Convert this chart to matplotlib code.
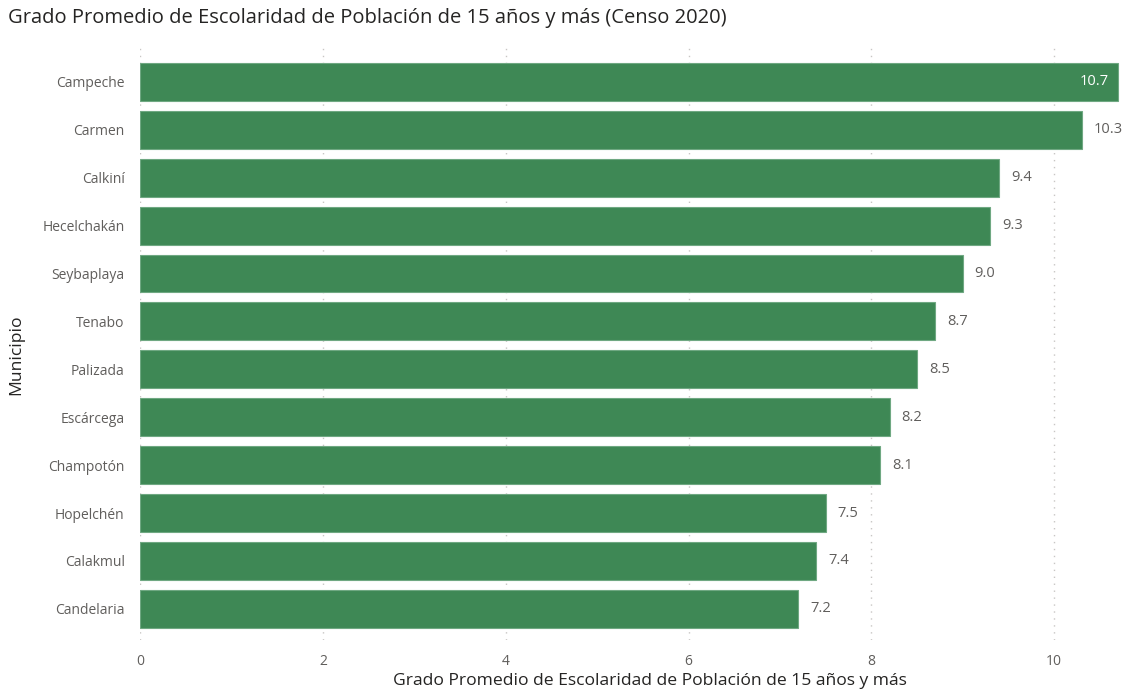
import matplotlib
matplotlib.use("Agg")
import matplotlib.pyplot as plt

municipios = ["Campeche", "Carmen", "Calkiní", "Hecelchakán", "Seybaplaya", "Tenabo",
              "Palizada", "Escárcega", "Champotón", "Hopelchén", "Calakmul", "Candelaria"]
valores = [10.7, 10.3, 9.4, 9.3, 9.0, 8.7, 8.5, 8.2, 8.1, 7.5, 7.4, 7.2]
xticks = [0, 2, 4, 6, 8, 10]

BAR = "#3E8855"
GRAY = "#605E5C"
DARK = "#252423"
FONT = ["Open Sans", "DejaVu Sans"]

plt.rcParams['font.family'] = FONT

fig = plt.figure(figsize=(11.28, 6.96), dpi=100)
W, H = 1128, 696
left, right, top, bottom = 140, 1120, 45, 640
ax = fig.add_axes([left / W, 1 - bottom / H, (right - left) / W, (bottom - top) / H])

ypos = list(range(len(municipios)))
ax.barh(ypos, valores, height=0.79, color=BAR, edgecolor="#6FA882", linewidth=0.8, zorder=3)
ax.set_ylim(len(municipios) - 1 + 0.65, -0.77)
ax.set_xlim(0, 10.72)

ax.set_xticks(xticks)
ax.set_xticklabels([str(t) for t in xticks])
ax.set_yticks(ypos)
ax.set_yticklabels(municipios)
ax.tick_params(axis='both', length=0, colors=GRAY, labelsize=10)
ax.tick_params(axis='y', pad=11)
ax.tick_params(axis='x', pad=10)
for s in ax.spines.values():
    s.set_visible(False)
ax.grid(axis='x', linestyle=(0, (1, 4)), color="#C8C6C4", linewidth=1, zorder=0)
ax.set_axisbelow(True)

for y, v in zip(ypos, valores):
    if v >= 10.6:
        ax.text(v - 0.1, y, f"{v:.1f}", va='center', ha='right', color="white", fontsize=10.5, zorder=4)
    else:
        ax.text(v + 0.13, y, f"{v:.1f}", va='center', ha='left', color=GRAY, fontsize=10.5, zorder=4)

ax.set_xlabel("Grado Promedio de Escolaridad de Población de 15 años y más", fontsize=12.6, color=DARK)
ax.xaxis.set_label_coords((650 - left) / (right - left), -0.055)
ax.set_ylabel("Municipio", fontsize=12.6, color=DARK)
ax.yaxis.set_label_coords(-(left - 24) / (right - left), 0.48)

fig.text(8 / W, 1 - 18 / H, "Grado Promedio de Escolaridad de Población de 15 años y más (Censo 2020)",
         fontsize=14.5, color=DARK, va='center', ha='left')

fig.savefig("out.png", dpi=100)
